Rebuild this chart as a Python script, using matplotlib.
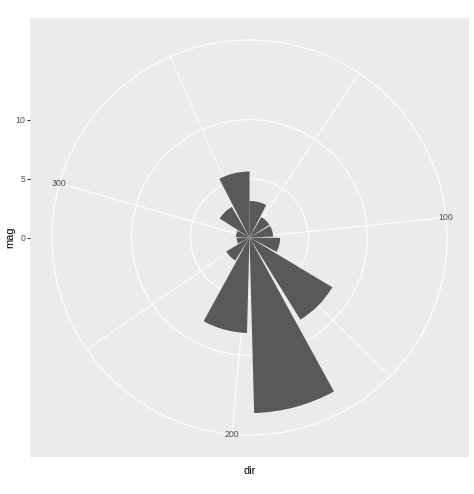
import numpy as np
import matplotlib
matplotlib.use("Agg")
import matplotlib.pyplot as plt

plt.rcParams["font.family"] = ["Liberation Sans", "DejaVu Sans"]

# ── Data ──────────────────────────────────────────────────────────────────────
dirs = [30, 60, 90, 120, 150, 180, 210, 240, 270, 300, 330, 360]
mags = [3.1, 2.0, 2.0, 2.6, 8.2, 14.9, 8.1, 2.3, 1.1, 1.15, 3.0, 5.6]
dir_major = [100, 200, 300]
dir_minor = [50, 150, 250, 350]
mag_breaks = [0, 5, 10]

# ── Figure / panel geometry (pixels) ──────────────────────────────────────────
W, H, DPI = 474, 494, 72
fig = plt.figure(figsize=(W / DPI, H / DPI), dpi=DPI)

px_l, px_t, pw, ph = 30, 18, 439, 439


def fig_rect(l, t, w, h):
    return [l / W, 1 - (t + h) / H, w / W, h / H]


# theta scale: continuous, spans bar extents (no expansion)
bar_w = 0.9 * 30
lo = min(dirs) - bar_w / 2
hi = max(dirs) + bar_w / 2


def to_theta(d):
    return 2 * np.pi * (np.asarray(d, float) - lo) / (hi - lo)


rmax = max(mags)
GRID = "white"
TXT = "#4D4D4D"

# ── Background panel + radial axis on the left ───────────────────────────────
ax_bg = fig.add_axes(fig_rect(px_l, px_t, pw, ph))
ax_bg.set_facecolor("#EBEBEB")
ax_bg.set_xlim(-1.25 * rmax, 1.25 * rmax)
ax_bg.set_ylim(-1.25 * rmax, 1.25 * rmax)
ax_bg.set_xticks([])
ax_bg.set_yticks(mag_breaks)
ax_bg.tick_params(axis="y", length=2.75, width=1.07, color="#333333",
                  labelcolor=TXT, labelsize=8.8, pad=2.2)
for s in ax_bg.spines.values():
    s.set_visible(False)
ax_bg.set_xlabel("dir", fontsize=11)
ax_bg.set_ylabel("mag", fontsize=11)
ax_bg.xaxis.set_label_coords(0.5, -0.02)
ax_bg.yaxis.set_label_coords(-0.034, 0.5)

# ── Polar panel (outer circle at 0.45 of panel, data up to 0.40) ─────────────
ax = fig.add_axes(fig_rect(px_l + 0.05 * pw, px_t + 0.05 * ph, 0.9 * pw, 0.9 * ph),
                  projection="polar")
ax.set_facecolor("none")
ax.set_theta_zero_location("N")
ax.set_theta_direction(-1)
ax.set_ylim(0, 1.125 * rmax)
ax.set_yticks([b for b in mag_breaks if b > 0])
ax.set_yticklabels([])
ax.set_xticks(to_theta(dir_major))
ax.set_xticklabels([])
ax.set_xticks(to_theta(dir_minor), minor=True)
ax.tick_params(axis="x", which="both", length=0)
ax.tick_params(axis="y", which="both", length=0)
ax.grid(which="major", color=GRID, linewidth=1.07)
ax.xaxis.grid(which="minor", color=GRID, linewidth=0.8)
ax.spines["polar"].set_color(GRID)
ax.spines["polar"].set_linewidth(1.07)

ax.bar(to_theta(dirs), mags, width=2 * np.pi * bar_w / (hi - lo),
       color="#595959", linewidth=0, zorder=3)

for d in dir_major:
    ax.text(to_theta(d), 1.125 * rmax, str(d), ha="center", va="center",
            fontsize=8.8, color=TXT, zorder=4)

fig.savefig("out.png", dpi=DPI)
